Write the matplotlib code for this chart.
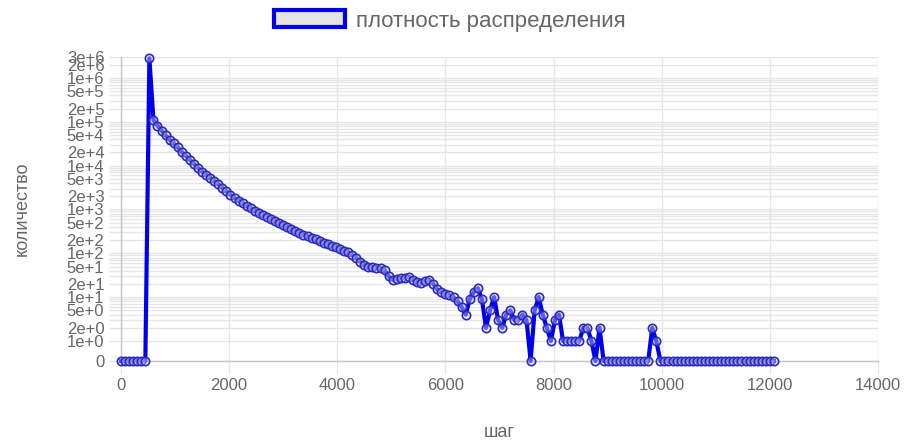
import matplotlib.pyplot as plt
import numpy as np

plt.rcParams['font.family'] = ['Liberation Sans', 'DejaVu Sans']

# шаг (step bins) and how many walks reached each one
step_width = 75
counts = [
    0, 0, 0, 0, 0, 0, 0, 2800000, 110000, 82000,
    63000, 49000, 39000, 32000, 26000, 20500, 16700, 13500, 11000, 8800,
    7300, 6200, 5300, 4450, 3800, 3100, 2600, 2170, 1820, 1600,
    1380, 1200, 1060, 946, 843, 755, 673, 605, 546, 490,
    440, 394, 355, 322, 290, 268, 246, 225, 207, 190,
    174, 162, 149, 136, 125, 115, 106, 93, 78, 65,
    54, 49, 48, 47, 46, 41, 30, 25, 26, 27,
    28, 29, 25, 22, 21, 23, 25, 20, 15, 13,
    12, 11, 10, 8, 6, 4, 9, 13, 16, 9,
    2, 5, 10, 3, 2, 4, 5, 3, 3, 4,
    3, 0, 5, 10, 4, 2, 1, 3, 4, 1,
    1, 1, 1, 1, 2, 2, 1, 0, 2, 0,
    0, 0, 0, 0, 0, 0, 0, 0, 0, 0,
    0, 2, 1, 0, 0, 0, 0, 0, 0, 0,
    0, 0, 0, 0, 0, 0, 0, 0, 0, 0,
    0, 0, 0, 0, 0, 0, 0, 0, 0, 0,
    0, 0,
]
steps = np.arange(len(counts)) * step_width

x_ticks = [0, 2000, 4000, 6000, 8000, 10000, 12000, 14000]
y_max = 3e6

legend_label = 'плотность распределения'
x_title = 'шаг'
y_title = 'количество'

TEXT = '#666666'
GRID = '#e6e6e6'

fig = plt.figure(figsize=(9.16, 4.45), dpi=100)
ax = fig.add_axes([121 / 916, 1 - 361 / 445, (878 - 121) / 916, (361 - 57) / 445])

# log axis that still has room for zero at the bottom
ax.set_yscale('symlog', linthresh=1, linscale=0.41)
ax.set_ylim(0, y_max)
ax.set_xlim(0, 14000)

ax.plot(steps, counts, color='#0000ee', lw=3.0, zorder=3,
        marker='o', ms=6.0, mfc=(0.8, 0.8, 0.88, 0.45), mec='#2a2ac0', mew=1.2,
        label=legend_label, clip_on=False)

# every 1..9 x 10^n gets a grid line; only 1, 2, 5 and the top value get a label
y_ticks = [0]
y_labels = ['0']
for e in range(7):
    for m in range(1, 10):
        v = m * 10 ** e
        if v > y_max:
            break
        y_ticks.append(v)
        y_labels.append(f'{m}e+{e}' if m in (1, 2, 5) or v == y_max else '')
ax.set_yticks(y_ticks)
ax.set_yticklabels(y_labels)
ax.yaxis.set_minor_locator(plt.NullLocator())
ax.set_xticks(x_ticks)

ax.grid(True, color=GRID, lw=1)
ax.set_axisbelow(True)
ax.tick_params(axis='both', colors=GRID, labelcolor=TEXT, labelsize=12,
               length=9, width=1)
ax.tick_params(axis='y', pad=3)
for name, sp in ax.spines.items():
    if name in ('left', 'bottom'):
        sp.set_color('#c4c4d0')
        sp.set_linewidth(1)
    else:
        sp.set_visible(False)

ax.set_xlabel(x_title, color=TEXT, fontsize=13, labelpad=22)
ax.set_ylabel(y_title, color=TEXT, fontsize=13, labelpad=26)

fig.legend(handles=[plt.Rectangle((0, 0), 1, 1, facecolor='#e4e4e4',
                                  edgecolor='#0000ee', lw=3)],
           labels=[legend_label], loc='center', bbox_to_anchor=(450 / 916, 1 - 21 / 445),
           frameon=False, fontsize=16, handlelength=3.2, handleheight=0.8,
           handletextpad=0.5, labelcolor=TEXT)

fig.savefig('out.png', dpi=100)
